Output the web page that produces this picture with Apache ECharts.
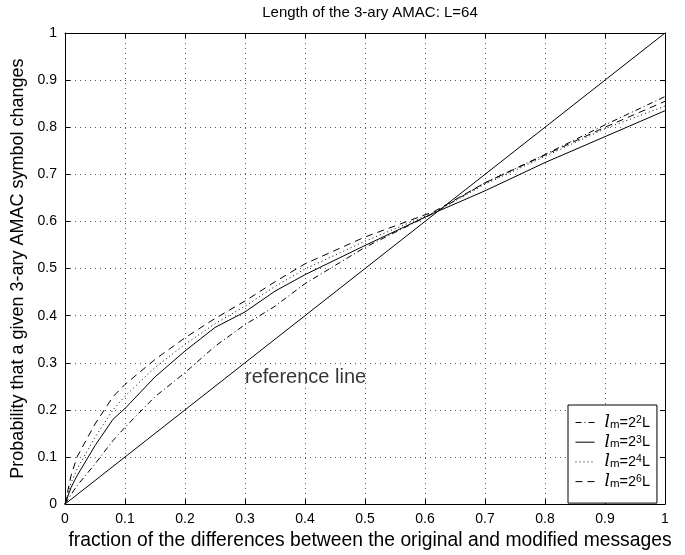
<!DOCTYPE html>
<html>
<head>
<meta charset="utf-8">
<script src="https://cdn.jsdelivr.net/npm/echarts@6/dist/echarts.min.js"></script>
<style>html,body{margin:0;padding:0;background:#fff}#c{width:685px;height:555px}</style>
</head>
<body>
<div id="c"></div>
<script>
// ---- data ----
var fractions = [0, 0.01, 0.02, 0.05, 0.08, 0.1, 0.15, 0.2, 0.25, 0.3, 0.35, 0.4, 0.5, 0.615, 0.7, 0.8, 0.9, 1];
var lm2 = [0, 0.02, 0.039, 0.085, 0.135, 0.163, 0.228, 0.279, 0.335, 0.381, 0.42, 0.468, 0.545, 0.618, 0.682, 0.742, 0.805, 0.865];
var lm3 = [0, 0.035, 0.06, 0.124, 0.18, 0.203, 0.27, 0.325, 0.375, 0.408, 0.452, 0.487, 0.549, 0.618, 0.665, 0.725, 0.78, 0.835];
var lm4 = [0, 0.045, 0.074, 0.142, 0.2, 0.229, 0.29, 0.339, 0.383, 0.42, 0.462, 0.499, 0.558, 0.619, 0.679, 0.738, 0.797, 0.845];
var lm6 = [0, 0.06, 0.1, 0.17, 0.228, 0.254, 0.307, 0.353, 0.394, 0.431, 0.472, 0.51, 0.567, 0.621, 0.682, 0.741, 0.80, 0.855];
var refX = [0, 1];
var refY = [0, 1];
var seriesNames = ['lm=2^2L', 'lm=2^3L', 'lm=2^4L', 'lm=2^6L'];
var exponents = ['2', '3', '4', '6'];
var refLabel = 'reference line';
var refLabelPos = [0.30, 0.268];
var titleText = 'Length of the 3-ary AMAC: L=64';
var xName = 'fraction of the differences between the original and modified messages';
var yName = 'Probability that a given 3-ary AMAC symbol changes';

function zip(xs, ys) { return xs.map(function (x, i) { return [x, ys[i]]; }); }

var FONT = 'Liberation Sans';
var chart = echarts.init(document.getElementById('c'));

function baseX(pos, showLabel) {
  return {
    type: 'value', position: pos, min: 0, max: 1, interval: 0.1,
    axisLine: { show: true, onZero: false, lineStyle: { color: '#000', width: 1 } },
    axisTick: { show: true, inside: true, length: 5, lineStyle: { color: '#000' } },
    axisLabel: { show: showLabel, color: '#000', fontSize: 14, fontFamily: FONT, margin: 8 },
    splitLine: { show: showLabel, lineStyle: { color: '#555', type: [1, 4], width: 1 } }
  };
}
var xa0 = baseX('bottom', true);
xa0.name = xName; xa0.nameLocation = 'middle'; xa0.nameGap = 24;
xa0.nameTextStyle = { color: '#000', fontSize: 19.3, fontFamily: FONT, padding: [0, 0, 0, 10] };
var xa1 = baseX('top', false);
var ya0 = baseX('left', true);
ya0.name = yName; ya0.nameLocation = 'middle'; ya0.nameGap = 35;
ya0.nameTextStyle = { color: '#000', fontSize: 18, fontFamily: FONT };
var ya1 = baseX('right', false);

function lineSeries(name, ys, dash) {
  return {
    name: name, type: 'line', data: zip(fractions, ys), symbol: 'none',
    lineStyle: { color: '#000', width: 1, type: dash }, itemStyle: { color: '#000' },
    animation: false, z: 3
  };
}

var option = {
  animation: false,
  title: {
    text: titleText, left: 365, top: 0, textAlign: 'center',
    textStyle: { color: '#000', fontSize: 15, fontWeight: 'normal', fontFamily: FONT }
  },
  grid: { left: 65, right: 20, top: 33, bottom: 50, containLabel: false },
  xAxis: [xa0, xa1],
  yAxis: [ya0, ya1],
  legend: {
    data: seriesNames, orient: 'vertical', left: 568, top: 405,
    backgroundColor: '#fff', borderColor: '#000', borderWidth: 1,
    padding: [9, 7, 13, 7], itemGap: 2.7, itemWidth: 19, itemHeight: 14,
    selectedMode: false,
    itemStyle: { opacity: 0 },
    lineStyle: { width: 1 },
    formatter: function (name) {
      var i = seriesNames.indexOf(name);
      return '{l|l}{m|m}{t|=2}{p|' + exponents[i] + '}{t|L}';
    },
    textStyle: {
      color: '#000', fontFamily: FONT, fontSize: 14.5, padding: [0, 0, 0, 5],
      rich: {
        l: { fontFamily: 'DejaVu Serif', fontStyle: 'italic', fontSize: 17, lineHeight: 16, verticalAlign: 'middle' },
        m: { fontFamily: FONT, fontSize: 11.5, lineHeight: 9, verticalAlign: 'bottom' },
        t: { fontFamily: FONT, fontSize: 14.5, lineHeight: 16, verticalAlign: 'middle' },
        p: { fontFamily: FONT, fontSize: 10.5, lineHeight: 8, verticalAlign: 'top' }
      }
    }
  },
  series: [
    {
      name: 'ref', type: 'line', data: zip(refX, refY), symbol: 'none',
      lineStyle: { color: '#000', width: 1, type: 'solid' }, z: 2, animation: false
    },
    lineSeries(seriesNames[0], lm2, [6, 3, 1, 3]),
    lineSeries(seriesNames[1], lm3, 'solid'),
    lineSeries(seriesNames[2], lm4, [1, 3]),
    lineSeries(seriesNames[3], lm6, [7, 5]),
    {
      name: 'refLabel', type: 'scatter', data: [refLabelPos], symbolSize: 0,
      label: { show: true, position: 'right', distance: 0, formatter: refLabel,
        color: '#000', fontSize: 20, fontFamily: FONT },
      silent: true, animation: false
    }
  ]
};
chart.setOption(option);
</script>
</body>
</html>
